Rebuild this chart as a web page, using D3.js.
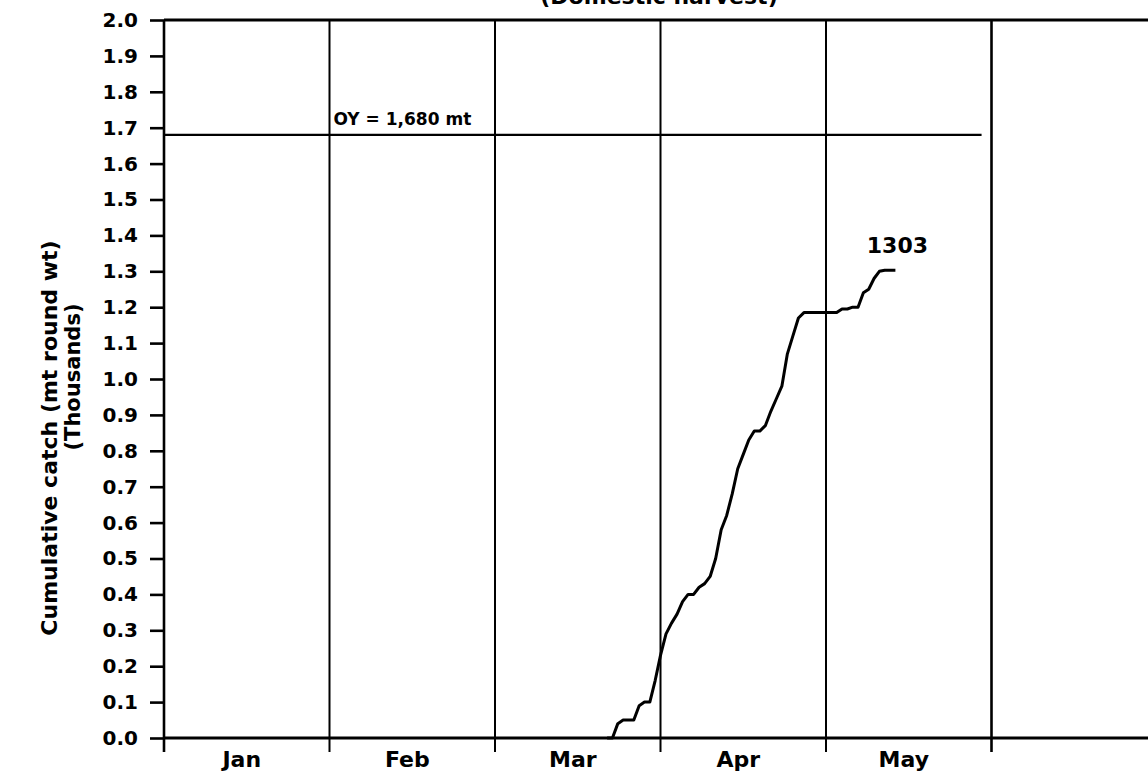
<!DOCTYPE html>
<html>
<head>
<meta charset="utf-8">
<script src="https://cdn.jsdelivr.net/npm/d3@7/dist/d3.min.js"></script>
<style>
  html, body { margin: 0; padding: 0; background: #fff; }
  svg { display: block; }
  text { font-family: "DejaVu Sans", sans-serif; font-weight: bold; fill: #000; }
</style>
</head>
<body>
<svg id="chart" width="1148" height="772"></svg>
<script>
// ---------------- data ----------------
const months = ["Jan", "Feb", "Mar", "Apr", "May"];
const monthDays = [31, 28, 31, 30, 31, 30];
const yTicks = [0, 0.1, 0.2, 0.3, 0.4, 0.5, 0.6, 0.7, 0.8, 0.9, 1.0,
                1.1, 1.2, 1.3, 1.4, 1.5, 1.6, 1.7, 1.8, 1.9, 2.0];
const optimumYield = 1.68;           // thousands mt
const oyLabel = "OY = 1,680 mt";
const finalLabel = "1303";
const titleText = "(Domestic harvest)";
const yTitle1 = "Cumulative catch (mt round wt)";
const yTitle2 = "(Thousands)";

// cumulative catch, thousands of mt (month index 0 = Jan, day of month)
const catchMonth = [2,2,2,2,2,2,2,2,2,2,
                    3,3,3,3,3,3,3,3,3,3,3,3,3,3,3,3,3,3,3,3,3,3,3,3,3,3,3,3,3,3,
                    4,4,4,4,4,4,4,4,4,4,4,4,4,4];
const catchDay   = [22,23,24,25,26,27,28,29,30,31,
                    1,2,3,4,5,6,7,8,9,10,11,12,13,14,15,16,17,18,19,20,21,22,23,24,25,26,27,28,29,30,
                    1,2,3,4,5,6,7,8,9,10,11,12,13,14];
const catchValue = [0.00,0.00,0.04,0.05,0.05,0.05,0.09,0.10,0.10,0.16,
                    0.23,0.29,0.32,0.345,0.38,0.40,0.40,0.42,0.43,0.45,0.50,0.58,0.62,0.68,0.75,0.79,0.83,0.855,0.855,0.87,
                    0.91,0.945,0.98,1.07,1.12,1.17,1.185,1.185,1.185,1.185,
                    1.185,1.185,1.185,1.195,1.195,1.20,1.20,1.24,1.25,1.28,1.30,1.303,1.303,1.303];

// ---------------- layout ----------------
const svg = d3.select("#chart");
const x = d3.scaleLinear().domain([0, 6]).range([164, 1157]);
const y = d3.scaleLinear().domain([0, 2.0]).range([738, 20]);
const monthPos = (m, d) => m + (d - 1) / monthDays[m];

const points = catchValue.map((v, i) => ({ t: monthPos(catchMonth[i], catchDay[i]), v }));

// partial title at top (cut off in the original scan)
svg.append("text")
  .attr("x", 659).attr("y", 4)
  .attr("text-anchor", "middle")
  .attr("font-size", 22)
  .text(titleText);

// month boundary lines
svg.append("g").selectAll("line")
  .data([1, 2, 3, 4, 5])
  .join("line")
  .attr("x1", d => x(d)).attr("x2", d => x(d))
  .attr("y1", y(2.0)).attr("y2", y(0) + 14)
  .attr("stroke", "#000")
  .attr("stroke-width", d => d === 5 ? 2.6 : 2);

// top frame line
svg.append("line")
  .attr("x1", x(0)).attr("x2", 1148)
  .attr("y1", y(2.0)).attr("y2", y(2.0))
  .attr("stroke", "#000").attr("stroke-width", 3);

// y axis
const yAxis = d3.axisLeft(y)
  .tickValues(yTicks)
  .tickSize(14)
  .tickPadding(12)
  .tickFormat(d3.format(".1f"));
const gy = svg.append("g")
  .attr("transform", `translate(${x(0)},0)`)
  .call(yAxis);
gy.select(".domain").remove();
gy.selectAll(".tick line").attr("stroke", "#000").attr("stroke-width", 2.6);
gy.selectAll(".tick text")
  .attr("font-size", 20)
  .attr("font-family", "DejaVu Sans, sans-serif")
  .attr("font-weight", "bold")
  .attr("fill", "#000");
svg.append("line")
  .attr("x1", x(0)).attr("x2", x(0))
  .attr("y1", y(2.0)).attr("y2", y(0) + 14)
  .attr("stroke", "#000").attr("stroke-width", 2.6);

// x axis baseline
svg.append("line")
  .attr("x1", x(0)).attr("x2", 1148)
  .attr("y1", y(0)).attr("y2", y(0))
  .attr("stroke", "#000").attr("stroke-width", 3);

// month labels
svg.append("g").selectAll("text")
  .data(months)
  .join("text")
  .attr("x", (d, i) => x(i + 0.47))
  .attr("y", y(0) + 29)
  .attr("text-anchor", "middle")
  .attr("font-size", 22)
  .text(d => d);

// OY line and label
svg.append("line")
  .attr("x1", x(0)).attr("x2", x(4.94))
  .attr("y1", y(optimumYield)).attr("y2", y(optimumYield))
  .attr("stroke", "#000").attr("stroke-width", 2.2);
svg.append("text")
  .attr("x", x(1) + 4)
  .attr("y", y(optimumYield) - 10)
  .attr("font-size", 17)
  .attr("xml:space", "preserve")
  .text(oyLabel);

// cumulative catch line
const line = d3.line().x(d => x(d.t)).y(d => y(d.v));
svg.append("path")
  .datum(points)
  .attr("d", line)
  .attr("fill", "none")
  .attr("stroke", "#000")
  .attr("stroke-width", 3)
  .attr("stroke-linejoin", "round");

const last = points[points.length - 1];
svg.append("text")
  .attr("x", x(last.t) + 2)
  .attr("y", y(last.v) - 17)
  .attr("text-anchor", "middle")
  .attr("font-size", 22)
  .text(finalLabel);

// y axis titles
svg.append("text")
  .attr("transform", `translate(57,438) rotate(-90)`)
  .attr("text-anchor", "middle")
  .attr("font-size", 22)
  .text(yTitle1);
svg.append("text")
  .attr("transform", `translate(80,377) rotate(-90)`)
  .attr("text-anchor", "middle")
  .attr("font-size", 21)
  .text(yTitle2);
</script>
</body>
</html>
